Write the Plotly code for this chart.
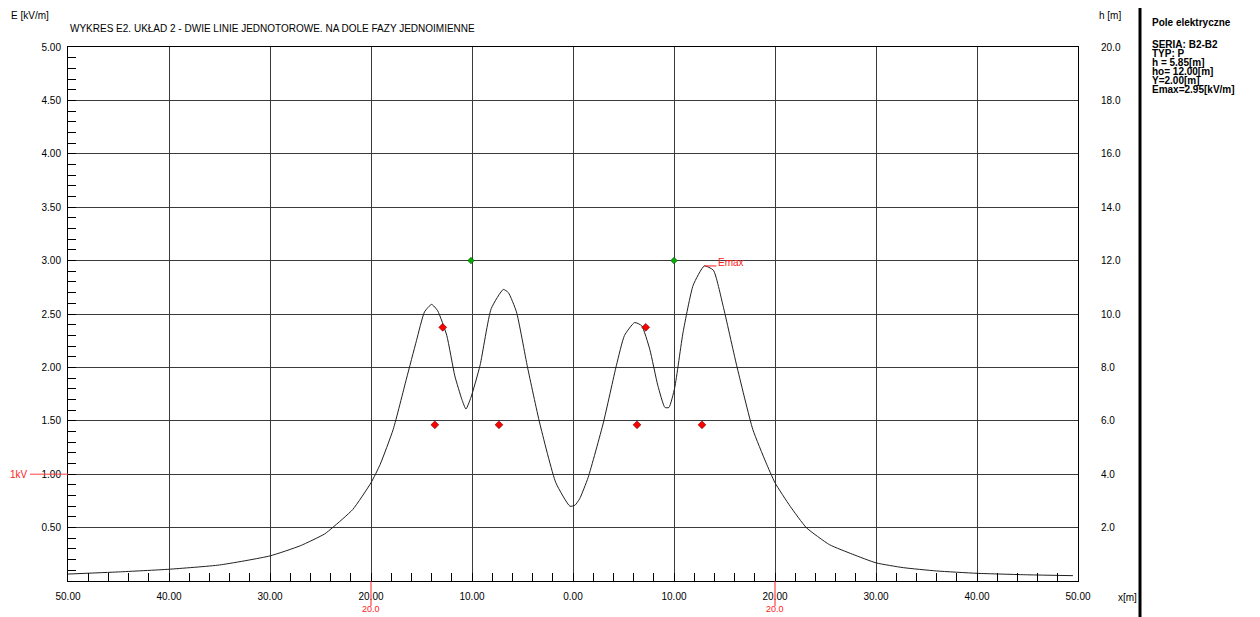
import numpy as np
import plotly.graph_objects as go

# ---------------- data ----------------
x_m = [-50, -45, -40, -35, -30, -27.0, -24.6, -23.8, -21.8, -20.0, -19.1, -17.8, -16.5, -15.5,
       -14.7, -14.0, -13.4, -12.5, -11.7, -11.0, -10.6, -10.1, -9.2, -8.1, -6.9, -6.4, -5.6,
       -4.5, -3.3, -1.7, -0.3, 0.2, 0.66, 1.5, 3.0, 4.3, 5.1, 6.1, 6.8, 7.6, 8.4, 9.1, 9.5,
       10.07, 10.9, 11.9, 13.0, 13.9, 14.85, 16.2, 17.8, 19.1, 20.0, 21.5, 23.1, 25.4, 27.7,
       30.0, 32.7, 36.0, 40.0, 45.0, 49.5]
E_kVm = [0.065, 0.085, 0.11, 0.15, 0.235, 0.33, 0.44, 0.50, 0.67, 0.92, 1.09, 1.42, 1.89, 2.25,
         2.52, 2.59, 2.53, 2.30, 1.92, 1.70, 1.61, 1.72, 2.02, 2.55, 2.73, 2.70, 2.52,
         2.00, 1.48, 0.92, 0.70, 0.71, 0.77, 0.97, 1.48, 2.02, 2.30, 2.42, 2.39, 2.17, 1.83, 1.625, 1.625,
         1.81, 2.33, 2.77, 2.95, 2.91, 2.58, 2.02, 1.42, 1.11, 0.92, 0.70, 0.50, 0.34, 0.25,
         0.17, 0.125, 0.094, 0.072, 0.058, 0.05]

# conductors (phases) positions [m] and heights [m]
phase_x = [-13.68, -7.33, -12.9, 6.34, 12.77, 7.2]
phase_h = [5.85, 5.85, 9.5, 5.85, 5.85, 9.5]
# ground wires
gw_x = [-10.1, 10.0]
gw_h = [12.0, 12.0]

Emax = 2.95
x_Emax = 13.0
limit_E = 1.0          # 1 kV/m reference level
limit_x = [-20, 20]    # 20 m reference lines

x_ticks = [-50, -40, -30, -20, -10, 0, 10, 20, 30, 40, 50]
x_ticktext = ["%.2f" % abs(v) for v in x_ticks]
E_ticks = [0.5, 1.0, 1.5, 2.0, 2.5, 3.0, 3.5, 4.0, 4.5, 5.0]
E_ticktext = ["%.2f" % v for v in E_ticks]
h_ticks = [2, 4, 6, 8, 10, 12, 14, 16, 18, 20]
h_ticktext = ["%.1f" % v for v in h_ticks]

title_text = "WYKRES E2. UKŁAD 2 - DWIE LINIE JEDNOTOROWE. NA DOLE FAZY JEDNOIMIENNE"
panel_title = "Pole elektryczne"
panel_lines = ["SERIA: B2-B2", "TYP: P", "h = 5.85[m]", "ho= 12.00[m]", "Y=2.00[m]", "Emax=2.95[kV/m]"]

# ---------------- figure ----------------
# the page body has an 8px margin, so the figure is made 8px smaller
OFF = 8
W, H = 1260 - OFF, 617 - OFF
ML, MT = 68 - OFF, 47 - OFF
PW, PH = 1010, 534
MR, MB = W - ML - PW, H - MT - PH

def px_x(px):   # px in window coordinates
    return (px - 68) / PW

def px_y(py):   # py in window coordinates
    return (581 - py) / PH

FONT = "Liberation Sans, Arial, sans-serif"
GRID = "#3a3a3a"

fig = go.Figure()
fig.add_trace(go.Scatter(x=x_m, y=E_kVm, mode="lines",
                         line=dict(color="#202020", width=1, shape="spline", smoothing=0.5),
                         hoverinfo="skip", showlegend=False))
fig.add_trace(go.Scatter(x=phase_x, y=phase_h, yaxis="y2", mode="markers",
                         marker=dict(symbol="diamond", size=6, color="#ff0000",
                                     line=dict(color="#600000", width=0.6)),
                         showlegend=False))
fig.add_trace(go.Scatter(x=gw_x, y=gw_h, yaxis="y2", mode="markers",
                         marker=dict(symbol="diamond", size=5, color="#00b000",
                                     line=dict(color="#004000", width=0.6)),
                         showlegend=False))

tickfont = dict(family=FONT, size=10, color="#000000")

fig.update_layout(
    width=W, height=H,
    margin=dict(l=ML, r=MR, t=MT, b=MB, pad=0),
    paper_bgcolor="white", plot_bgcolor="white",
    showlegend=False,
    font=dict(family=FONT, size=10, color="#000000"),
    xaxis=dict(range=[-50, 50], tickmode="array", tickvals=x_ticks, ticktext=x_ticktext,
               showgrid=True, gridcolor=GRID, gridwidth=1, zeroline=False,
               showline=True, linecolor="#000000", linewidth=1, mirror=True,
               ticks="inside", ticklen=8, tickcolor="#000000", tickwidth=1,
               ticklabelstandoff=6, tickfont=tickfont,
               minor=dict(dtick=2, tick0=0, ticks="inside", ticklen=8, tickcolor="#000000",
                          tickwidth=1, showgrid=False)),
    yaxis=dict(range=[0, 5], tickmode="array", tickvals=E_ticks, ticktext=E_ticktext,
               showgrid=True, gridcolor=GRID, gridwidth=1, zeroline=False,
               showline=True, linecolor="#000000", linewidth=1, mirror=True,
               ticks="inside", ticklen=8, tickcolor="#000000", tickwidth=1,
               ticklabelstandoff=4, tickfont=tickfont,
               minor=dict(tickmode="array", tickvals=list(np.round(np.arange(0.1, 5.0, 0.1), 2)),
                          ticks="inside", ticklen=8, tickcolor="#000000", tickwidth=1,
                          showgrid=False)),
    yaxis2=dict(range=[0, 20], overlaying="y", side="right", tickmode="array",
                tickvals=h_ticks, ticktext=h_ticktext, showgrid=False, zeroline=False,
                showline=False, ticks="", ticklabelstandoff=22, tickfont=tickfont),
)

ann = []
ann.append(dict(xref="paper", yref="paper", x=px_x(9), y=px_y(15), xanchor="left", yanchor="middle",
                text="E [kV/m]", showarrow=False, font=dict(family=FONT, size=10)))
ann.append(dict(xref="paper", yref="paper", x=px_x(68), y=px_y(29), xanchor="left", yanchor="middle",
                text=title_text, showarrow=False, font=dict(family=FONT, size=10)))
ann.append(dict(xref="paper", yref="paper", x=px_x(1097), y=px_y(15), xanchor="left", yanchor="middle",
                text="h [m]", showarrow=False, font=dict(family=FONT, size=10)))
ann.append(dict(xref="paper", yref="paper", x=px_x(1116), y=px_y(597), xanchor="left", yanchor="middle",
                text="x[m]", showarrow=False, font=dict(family=FONT, size=10)))
ann.append(dict(xref="paper", yref="y", x=px_x(8), y=limit_E, xanchor="left", yanchor="middle",
                text="1kV", showarrow=False, font=dict(family=FONT, size=10, color="#ff2020")))
ann.append(dict(xref="x", yref="y", x=x_Emax + 1.2, y=Emax, xanchor="left", yanchor="middle", yshift=3,
                text="Emax", showarrow=False, font=dict(family=FONT, size=10, color="#ff2020")))
for xv in limit_x:
    ann.append(dict(xref="x", yref="paper", x=xv, y=px_y(616), xanchor="center", yanchor="bottom",
                    text="%.1f" % abs(xv), showarrow=False, font=dict(family=FONT, size=9, color="#ff2020")))
# right panel
ann.append(dict(xref="paper", yref="paper", x=px_x(1150), y=px_y(22), xanchor="left", yanchor="middle",
                text="<b>%s</b>" % panel_title, showarrow=False, font=dict(family=FONT, size=10)))
for i, t in enumerate(panel_lines):
    ann.append(dict(xref="paper", yref="paper", x=px_x(1150), y=px_y(44 + i * 9.2), xanchor="left",
                    yanchor="middle", text="<b>%s</b>" % t, showarrow=False, font=dict(family=FONT, size=10)))
fig.update_layout(annotations=ann)

shapes = []
shapes.append(dict(type="line", xref="paper", yref="y", x0=px_x(30), x1=0, y0=limit_E, y1=limit_E,
                   line=dict(color="#ff4040", width=1)))
for xv in limit_x:
    shapes.append(dict(type="line", xref="x", yref="paper", x0=xv, x1=xv, y0=0, y1=px_y(606),
                       line=dict(color="#ff2020", width=1)))
shapes.append(dict(type="line", xref="x", yref="y", x0=x_Emax, x1=x_Emax + 1.2, y0=Emax, y1=Emax,
                   line=dict(color="#ff2020", width=1)))
shapes.append(dict(type="line", xref="paper", yref="paper", x0=px_x(1140), x1=px_x(1140),
                   y0=px_y(630), y1=px_y(-10), line=dict(color="#000000", width=3)))
fig.update_layout(shapes=shapes)

fig.write_html("out.html")
